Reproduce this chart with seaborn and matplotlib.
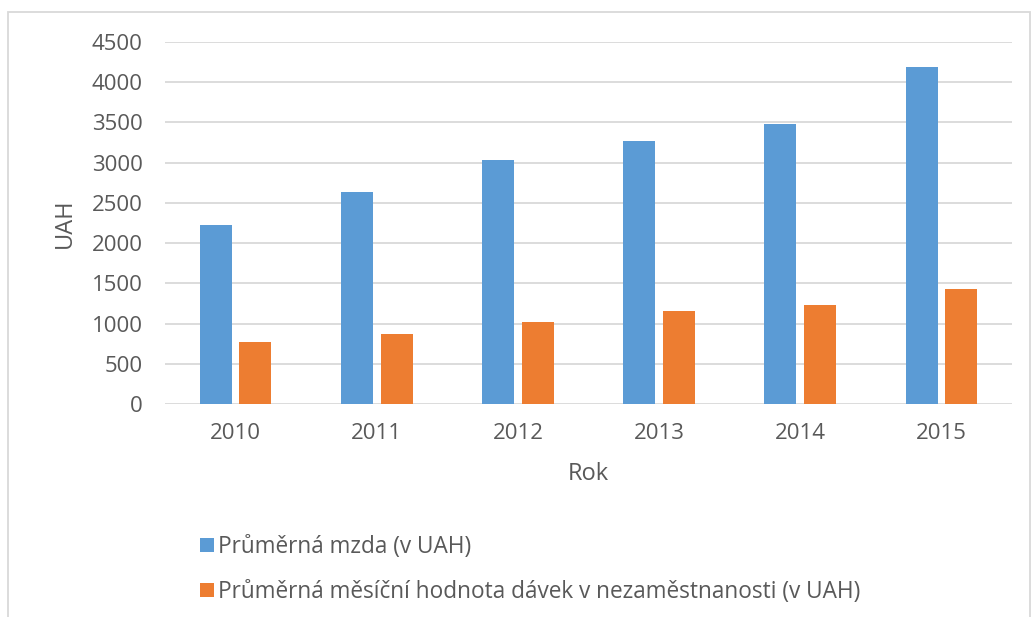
import numpy as np
import pandas as pd
import matplotlib
matplotlib.use("Agg")
import matplotlib.pyplot as plt
import seaborn as sns
from matplotlib.patches import Rectangle

# data
years = ["2010", "2011", "2012", "2013", "2014", "2015"]
mzda = [2230, 2630, 3030, 3275, 3480, 4195]
davky = [775, 875, 1015, 1160, 1230, 1430]
series_names = ["Průměrná mzda (v UAH)",
                "Průměrná měsíční hodnota dávek v nezaměstnanosti (v UAH)"]
yticks = [0, 500, 1000, 1500, 2000, 2500, 3000, 3500, 4000, 4500]

df = pd.DataFrame({
    "Rok": years * 2,
    "UAH": mzda + davky,
    "serie": [series_names[0]] * len(years) + [series_names[1]] * len(years),
})

sns.set_theme(style="white")
plt.rcParams["font.family"] = ["Open Sans", "DejaVu Sans"]
grey = "#595959"

fig = plt.figure(figsize=(10.33, 6.17), dpi=100)
ax = fig.add_axes([165 / 1033, 1 - 404 / 617, 847 / 1033, 362 / 617])

sns.barplot(data=df, x="Rok", y="UAH", hue="serie",
            palette=["#5B9BD5", "#ED7D31"], width=0.56, gap=0.19,
            linewidth=0, saturation=1, ax=ax, zorder=3)

ax.set_ylim(0, 4500)
ax.set_xlim(-0.5, len(years) - 0.5)
ax.set_yticks(yticks)
ax.yaxis.grid(True, color="#D9D9D9", linewidth=1.3, zorder=0)
ax.set_axisbelow(True)
for s in ax.spines.values():
    s.set_visible(False)
ax.tick_params(axis="both", length=0, colors=grey, labelsize=16)
ax.tick_params(axis="x", pad=14)
ax.tick_params(axis="y", pad=16)

ax.set_ylabel("UAH", fontsize=17, color=grey)
ax.set_xlabel("Rok", fontsize=17, color=grey)
ax.yaxis.set_label_coords(-0.104, 0.5)
ax.xaxis.set_label_coords(0.5, -0.16)

handles, labels = ax.get_legend_handles_labels()
ax.get_legend().remove()
fig.legend(handles, labels, loc="upper left", bbox_to_anchor=(200 / 1033, 1 - 535 / 617),
           frameon=False, fontsize=16.3, labelcolor=grey, borderpad=0, borderaxespad=0,
           handlelength=0.6, handleheight=0.6, handletextpad=0.2, labelspacing=0.92)

# outer chart border
fig.patches.append(Rectangle((8 / 1033, -0.1), 1022 / 1033, 1.1 - 12 / 617,
                             transform=fig.transFigure, fill=False,
                             edgecolor="#D9D9D9", linewidth=1.3))

fig.savefig("out.png", dpi=100)
